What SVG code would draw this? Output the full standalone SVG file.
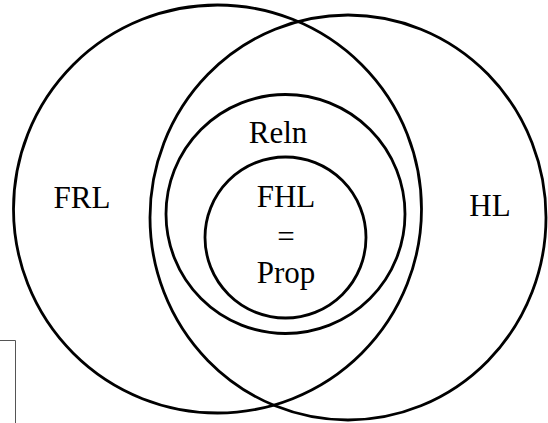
<svg xmlns="http://www.w3.org/2000/svg" width="548" height="423" viewBox="0 0 548 423">
<style>
.c{fill:none;stroke:#000;stroke-width:2.8}
.t{font-family:"Liberation Serif","Times New Roman",serif;font-size:31px;fill:#000;text-anchor:middle}
</style>
<rect width="548" height="423" fill="#fff"/>
<g id="frame"><path d="M0 340.5H15.5V423" fill="none" stroke="#555" stroke-width="1"/></g>
<g id="FRL"><circle class="c" cx="217.5" cy="209" r="204"/><text class="t" x="82" y="208">FRL</text></g>
<g id="HL"><ellipse class="c" cx="348" cy="217.5" rx="198" ry="202.5"/><text class="t" x="490" y="216">HL</text></g>
<g id="Reln"><circle class="c" cx="285.5" cy="214" r="119.5"/><text class="t" x="278" y="143">Reln</text></g>
<g id="FHL"><circle class="c" cx="285.5" cy="237.5" r="80.5"/><text class="t" x="286" y="207">FHL</text><text class="t" x="286" y="247">=</text><text class="t" x="286" y="283">Prop</text></g>
<g id="connectors"/>
</svg>
